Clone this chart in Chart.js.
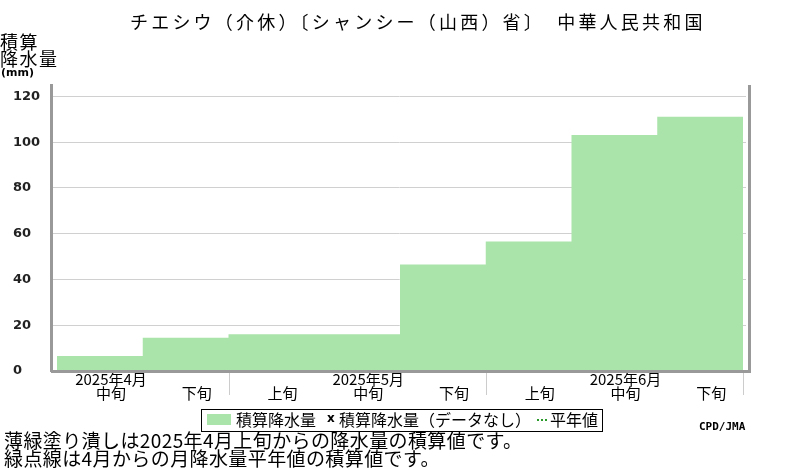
<!DOCTYPE html>
<html>
<head>
<meta charset="utf-8">
<script src="https://cdn.jsdelivr.net/npm/chart.js@4/dist/chart.umd.min.js"></script>
<style>
  html, body { margin: 0; padding: 0; background: #fff; }
  #wrap { width: 800px; height: 470px; }
</style>
</head>
<body>
<div id="wrap"><canvas id="chart" width="800" height="470"></canvas></div>
<script>
//-------------
//- DATOS -
//-------------
var titleText = 'チエシウ（介休）〔シャンシー（山西）省〕　中華人民共和国';
var monthLabels = ['2025年4月', '2025年5月', '2025年6月'];
var dekadLabels = ['上旬', '中旬', '下旬', '上旬', '中旬', '下旬', '上旬', '中旬', '下旬'];
//积算降水量 por decena (4月上旬 sin dato en el grafico)
var accumPrecip = [null, 6.6, 14.5, 16.1, 16.1, 46.5, 56.6, 103.2, 111.1];
var yTickValues = [0, 20, 40, 60, 80, 100, 120];
var noteLines = [
  '薄緑塗り潰しは2025年4月上旬からの降水量の積算値です。',
  '緑点線は4月からの月降水量平年値の積算値です。'
];

var jpFont = '"Noto Sans CJK JP", "Noto Sans", sans-serif';
var fillGreen = 'rgb(171,228,171)';
var labelShift = 0.13;

// puntos del escalon: cada decena ocupa [i, i+1]
var points = accumPrecip.map(function (v, i) { return { x: i, y: v }; });
points.push({ x: accumPrecip.length, y: accumPrecip[accumPrecip.length - 1] });

//PLUGIN PARA TEXTOS Y BORDES
var extras = {
  id: 'extras',
  afterDraw: function (chart) {
    var ctx = chart.ctx;
    var area = chart.chartArea;
    var xs = chart.scales.x;
    ctx.save();

    // bordes inferior y derecho
    ctx.strokeStyle = '#999';
    ctx.lineWidth = 3;
    ctx.beginPath();
    ctx.moveTo(area.left, area.bottom + 0.5);
    ctx.lineTo(area.right + 5, area.bottom + 0.5);
    ctx.moveTo(area.right + 3.5, area.top);
    ctx.lineTo(area.right + 3.5, area.bottom + 2);
    ctx.stroke();

    // separadores de mes
    ctx.strokeStyle = '#ccc';
    ctx.lineWidth = 1;
    for (var m = 1; m <= monthLabels.length; m++) {
      var px = Math.round(xs.getPixelForValue(m * 3)) + 0.5;
      ctx.beginPath();
      ctx.moveTo(px, area.bottom + 2);
      ctx.lineTo(px, area.bottom + 24);
      ctx.stroke();
    }

    ctx.fillStyle = '#000';
    ctx.textBaseline = 'middle';
    ctx.textAlign = 'left';

    // titulo
    ctx.font = '18px ' + jpFont;
    ctx.letterSpacing = '3.2px';
    ctx.fillText(titleText, 130, 22);

    // titulo eje Y
    ctx.letterSpacing = '1.5px';
    ctx.fillText('積算', 0, 42);
    ctx.fillText('降水量', 0, 59);
    ctx.letterSpacing = '0px';
    ctx.font = 'bold 11px "DejaVu Sans", sans-serif';
    ctx.fillText('(mm)', 1, 73);

    // leyenda
    ctx.strokeStyle = '#000';
    ctx.lineWidth = 1;
    ctx.strokeRect(201.5, 409.5, 401, 22);
    ctx.fillStyle = fillGreen;
    ctx.fillRect(207, 414, 24, 11);
    ctx.fillStyle = '#000';
    ctx.font = '16px ' + jpFont;
    ctx.fillText('積算降水量', 236, 420);
    ctx.font = 'bold 12px "DejaVu Sans", sans-serif';
    ctx.fillText('x', 327, 419);
    ctx.font = '16px ' + jpFont;
    ctx.fillText('積算降水量（データなし）', 339, 420);
    ctx.strokeStyle = '#2a9a2a';
    ctx.lineWidth = 2;
    ctx.setLineDash([2, 2]);
    ctx.beginPath();
    ctx.moveTo(537, 420);
    ctx.lineTo(548, 420);
    ctx.stroke();
    ctx.setLineDash([]);
    ctx.fillText('平年値', 550, 420);

    // notas
    ctx.font = '19px ' + jpFont;
    ctx.letterSpacing = '0.4px';
    ctx.fillText(noteLines[0], 4, 441);
    ctx.fillText(noteLines[1], 4, 459);
    ctx.letterSpacing = '0px';

    ctx.font = 'bold 11px "DejaVu Sans Mono", monospace';
    ctx.fillText('CPD/JMA', 699, 427);
    ctx.restore();
  }
};

var ctx = document.getElementById('chart').getContext('2d');
var chart = new Chart(ctx, {
  type: 'line',
  data: {
    datasets: [{
      label: '積算降水量',
      data: points,
      stepped: true,
      fill: 'origin',
      backgroundColor: fillGreen,
      borderWidth: 0,
      pointRadius: 0,
      spanGaps: false
    }]
  },
  options: {
    responsive: false,
    animation: false,
    layout: { padding: { left: 13, top: 85, right: 54, bottom: 0 } },
    plugins: { legend: { display: false }, title: { display: false }, tooltip: { enabled: false } },
    scales: {
      x: {
        type: 'linear',
        min: 0.93,
        max: 9.035,
        afterFit: function (s) { s.height = 99; },
        afterBuildTicks: function (s) {
          s.ticks = dekadLabels.map(function (d, i) { return { value: i + 0.5 + labelShift }; })
            .filter(function (t) { return t.value >= s.min && t.value <= s.max; });
        },
        grid: { display: false, drawTicks: false },
        border: { display: false },
        ticks: {
          autoSkip: false,
          maxRotation: 0,
          padding: 2,
          color: '#000',
          font: { family: jpFont, size: 15, lineHeight: 0.9 },
          callback: function (value) {
            var i = Math.round(value - 0.5 - labelShift);
            if (i % 3 === 1) return [monthLabels[Math.floor(i / 3)], dekadLabels[i]];
            return ['', dekadLabels[i]];
          }
        }
      },
      y: {
        min: 0,
        max: 125,
        afterFit: function (s) { s.width = 38; },
        afterBuildTicks: function (s) {
          s.ticks = yTickValues.map(function (v) { return { value: v }; });
        },
        grid: { color: '#d0d0d0', lineWidth: 1, drawTicks: false },
        border: { color: '#999', width: 3 },
        ticks: {
          crossAlign: 'far',
          padding: 0,
          color: '#222',
          font: { family: '"DejaVu Sans", sans-serif', size: 13, weight: 'bold' }
        }
      }
    }
  },
  plugins: [extras]
});
</script>
</body>
</html>
